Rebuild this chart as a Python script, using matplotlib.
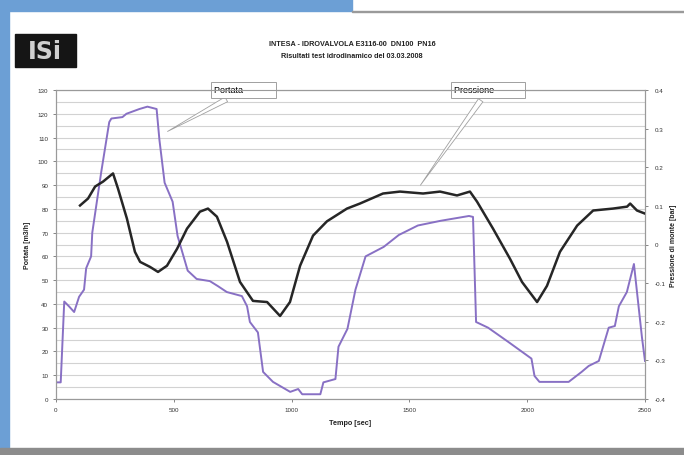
import matplotlib
matplotlib.use("Agg")
import matplotlib.pyplot as plt
from matplotlib.patches import Rectangle

# Portata (flow rate) [m3/h] versus time [s]
portata_t = [0, 20, 35, 55, 77, 98, 119, 128, 149, 154, 192, 226, 235, 282, 299, 354, 388,
             427, 439, 461, 495, 516, 559, 597, 653, 687, 725, 789, 811, 823, 857, 879, 921,
             994, 1028, 1045, 1122, 1135, 1186, 1199, 1237, 1271, 1314, 1391, 1455, 1536,
             1634, 1753, 1770, 1783, 1834, 1920, 2018, 2031, 2052, 2176, 2231, 2261, 2304,
             2346, 2372, 2389, 2423, 2453, 2487, 2500]
portata_q = [7, 7, 41, 39, 36.6, 43, 46, 55, 60, 70, 95.5, 116.5, 118, 118.6, 120, 122, 123,
             122, 109, 91, 83, 68.6, 54, 50.5, 49.6, 47.5, 45, 43.3, 39, 32.4, 28, 11.4, 7.2,
             3, 4.2, 2, 2, 7, 8.4, 22, 29.5, 46, 60, 64, 69, 73,
             75, 77, 76.6, 32.4, 30, 24, 17, 9.7, 7.2, 7.2, 11.4, 13.9, 16,
             30, 30.7, 39, 45, 56.8, 26, 16]

# Pressione di monte (upstream pressure) [bar] versus time [s]
press_t = [102, 136, 166, 200, 242, 263, 301, 335, 357, 399, 433, 471, 514, 556, 611, 645,
           683, 726, 781, 836, 896, 951, 993, 1036, 1091, 1150, 1235, 1290, 1388, 1460, 1558,
           1630, 1702, 1757, 1787, 1855, 1927, 1978, 2042, 2084, 2139, 2212, 2280, 2364,
           2424, 2437, 2466, 2500]
press_p = [0.101, 0.119, 0.150, 0.163, 0.184, 0.145, 0.067, -0.019, -0.045, -0.058, -0.071,
           -0.055, -0.011, 0.041, 0.085, 0.093, 0.072, 0.007, -0.097, -0.146, -0.149, -0.185,
           -0.149, -0.055, 0.023, 0.060, 0.093, 0.106, 0.132, 0.137, 0.132, 0.137, 0.127,
           0.137, 0.111, 0.041, -0.037, -0.097, -0.149, -0.107, -0.019, 0.049, 0.088, 0.093,
           0.098, 0.106, 0.088, 0.080]

x_ticks = [0, 500, 1000, 1500, 2000, 2500]
q_ticks = list(range(0, 131, 10))
p_ticks = [0.4, 0.3, 0.2, 0.1, 0.0, -0.1, -0.2, -0.3, -0.4]
p_labels = ["0.4", "0.3", "0.2", "0.1", "0", "-0.1", "-0.2", "-0.3", "-0.4"]

title_1 = "INTESA - IDROVALVOLA E3116-00  DN100  PN16"
title_2 = "Risultati test idrodinamico del 03.03.2008"

plt.rcParams["font.family"] = ["Liberation Sans", "DejaVu Sans"]

W, H = 684, 456
fig = plt.figure(figsize=(W / 100, H / 100), dpi=100)
fig.patch.set_facecolor("white")

# page frame: blue margin on the left, blue band on top, grey bar at the bottom
blue = "#6c9fd5"
fig.patches.append(Rectangle((0, 0), 9 / W, 1, transform=fig.transFigure, color=blue, zorder=0))
fig.patches.append(Rectangle((0, 1 - 12 / H), 352 / W, 12 / H, transform=fig.transFigure,
                             color=blue, zorder=0))
fig.patches.append(Rectangle((352 / W, 1 - 13 / H), 1, 1.5 / H, transform=fig.transFigure,
                             color="#9a9a9a", zorder=0))
fig.patches.append(Rectangle((0, 0), 1, 7 / H, transform=fig.transFigure, color="#8c8c8c",
                             zorder=0))

# company logo
fig.patches.append(Rectangle((15 / W, 1 - 68 / H), 61 / W, 33 / H, transform=fig.transFigure,
                             color="#151515", zorder=1))
fig.text(45 / W, 1 - 52 / H, "ISi", color="#cfcfcf", fontsize=17, fontweight="bold",
         ha="center", va="center", family="DejaVu Sans")

# titles
fig.text(352 / W, 1 - 44 / H, title_1, ha="center", va="center", fontsize=5.2,
         fontweight="bold", color="#222222")
fig.text(352 / W, 1 - 57 / H, title_2, ha="center", va="center", fontsize=5.2,
         fontweight="bold", color="#222222")

ax = fig.add_axes([56 / W, 56 / H, 589 / W, 309 / H])
ax.set_facecolor("white")
ax.set_xlim(0, 2500)
ax.set_ylim(0, 130)
ax.set_xticks(x_ticks)
ax.set_yticks(q_ticks)
ax.set_yticks(list(range(5, 130, 10)), minor=True)
ax.tick_params(axis="both", labelsize=4.5, length=2, width=0.5, colors="#555555",
               labelcolor="#333333")
ax.tick_params(axis="y", which="minor", length=0)
ax.grid(True, axis="y", which="both", color="#d2d2d2", lw=0.8)
for s in ax.spines.values():
    s.set_color("#9a9a9a")
    s.set_linewidth(0.8)

ax.plot(portata_t, portata_q, color="#8870c4", lw=1.4, zorder=3)
ax.set_xlabel("Tempo [sec]", fontsize=5.2, fontweight="bold", color="#222222", labelpad=5)
ax.set_ylabel("Portata [m3/h]", fontsize=5, fontweight="bold", color="#222222", labelpad=5)

ax2 = ax.twinx()
ax2.set_ylim(-0.4, 0.4)
ax2.set_yticks(p_ticks)
ax2.set_yticklabels(p_labels)
ax2.tick_params(axis="y", labelsize=4.5, length=2, width=0.5, colors="#555555",
                labelcolor="#333333", pad=5)
for s in ax2.spines.values():
    s.set_color("#9a9a9a")
    s.set_linewidth(0.8)
ax2.plot(press_t, press_p, color="#262626", lw=1.8, zorder=3)
ax2.set_ylabel("Pressione di monte [bar]", fontsize=5, fontweight="bold", color="#222222",
               rotation=90, labelpad=3)

# callout labels for the two series
callout = dict(boxstyle="square,pad=0.35", fc="white", ec="#a0a0a0", lw=0.7)
wedge = dict(arrowstyle="wedge,tail_width=0.6,shrink_factor=0.5", fc="white", ec="#a0a0a0",
             lw=0.6)
ax.annotate("Portata            ", xy=(463, 112), xytext=(670, 130), fontsize=6.5,
            ha="left", va="center", bbox=callout, arrowprops=wedge, zorder=5,
            annotation_clip=False)
ax.annotate("Pressione           ", xy=(1540, 89), xytext=(1690, 130), fontsize=6.5,
            ha="left", va="center", bbox=callout, arrowprops=wedge, zorder=5,
            annotation_clip=False)

fig.savefig("out.png", dpi=100)
